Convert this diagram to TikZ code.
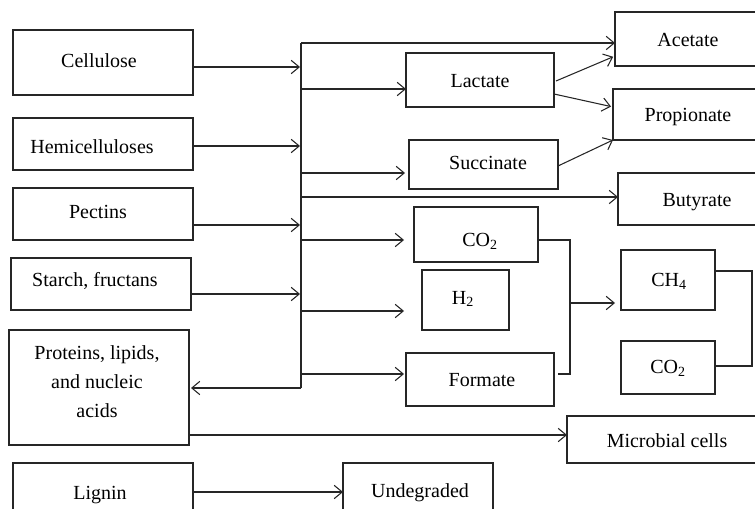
\documentclass[tikz,border=0pt]{standalone}
\usepackage{fontspec}
\setmainfont{Liberation Serif}
\usetikzlibrary{arrows.meta,fit}
\begin{document}
\begin{tikzpicture}[x=0.75pt,y=-0.75pt,
  line width=0.8pt, draw={black!85},
  box/.style={draw, rectangle, inner sep=0pt, outer sep=0pt},
  txt/.style={inner sep=0pt, font=\fontsize{15}{21.75}\selectfont, align=center},
  arr/.style={-{Straight Barb[length=6pt,width=10pt,line width=0.8pt]}},
  con/.style={}]
\useasboundingbox (0,0) rectangle (755,509);
\clip (0,0) rectangle (755,509);
% boxes
\node[box, fit={(13,30) (193,95)}] (cell) {};
\node[box, fit={(13,118) (193,170)}] (hemi) {};
\node[box, fit={(13,188) (193,240)}] (pect) {};
\node[box, fit={(11,258) (191,310)}] (starch) {};
\node[box, fit={(9,330) (189,445)}] (prot) {};
\node[box, fit={(13,463) (193,525)}] (lign) {};
\node[box, fit={(615,12) (775,66)}] (acet) {};
\node[box, fit={(406,53) (554,107)}] (lact) {};
\node[box, fit={(613,89) (775,140)}] (prop) {};
\node[box, fit={(409,140) (558,189)}] (succ) {};
\node[box, fit={(618,173) (775,225)}] (buty) {};
\node[box, fit={(414,207) (538,262)}] (co2a) {};
\node[box, fit={(422,270) (509,330)}] (htwo) {};
\node[box, fit={(406,353) (554,406)}] (form) {};
\node[box, fit={(621,250) (715,310)}] (chf) {};
\node[box, fit={(621,341) (715,394)}] (co2b) {};
\node[box, fit={(567,416) (775,463)}] (micro) {};
\node[box, fit={(343,463) (493,525)}] (undeg) {};
% texts
\node[txt] (tcell) at (99,61) {Cellulose};
\node[txt] (themi) at (92,147) {Hemicelluloses};
\node[txt] (tpect) at (98,212) {Pectins};
\node[txt] (tstarch) at (95,281) {Starch, fructans};
\node[txt] (tprot) at (97,382) {Proteins, lipids,\\and nucleic\\acids};
\node[txt] (tlign) at (100,495) {Lignin};
\node[txt] (tundeg) at (420,493) {Undegraded};
\node[txt] (tacet) at (688,40) {Acetate};
\node[txt] (tlact) at (480,81) {Lactate};
\node[txt] (tprop) at (688,117) {Propionate};
\node[txt] (tsucc) at (488,163) {Succinate};
\node[txt] (tbuty) at (697,202) {Butyrate};
\node[txt] (tco2a) at (480,241) {CO\textsubscript{2}};
\node[txt] (thtwo) at (463,299) {H\textsubscript{2}};
\node[txt] (tform) at (482,380) {Formate};
\node[txt] (tchf) at (669,281) {CH\textsubscript{4}};
\node[txt] (tco2b) at (668,368) {CO\textsubscript{2}};
\node[txt] (tmicro) at (667,441) {Microbial cells};
% bus
\coordinate (bus) at (301,0);
\coordinate (bt) at (301,43);
\coordinate (bb) at (301,388);
\draw (bt) -- (bb);
% inputs
\draw[arr] (cell.east |- 0,67) -- (300,67);
\draw[arr] (hemi.east |- 0,146) -- (300,146);
\draw[arr] (pect.east |- 0,225) -- (300,225);
\draw[arr] (starch.east |- 0,294) -- (300,294);
% outputs from bus
\draw[arr] (bt) -- (acet.west |- bt);
\draw[arr] (bus |- 0,89) -- (lact.west |- 0,89);
\draw[arr, shorten >=3pt] (bus |- 0,173) -- (succ.west |- 0,173);
\draw[arr] (bus |- 0,197) -- (buty.west |- 0,197);
\draw[arr, shorten >=7.5pt] (bus |- 0,240) -- (co2a.west |- 0,240);
\draw[arr, shorten >=13.5pt] (bus |- 0,311) -- (htwo.west |- 0,311);
\draw[arr, shorten >=1.5pt] (bus |- 0,374) -- (form.west |- 0,374);
\draw[arr, shorten >=1.5pt] (bb) -- (prot.east |- bb);
% other arrows
\draw[arr] (prot.east |- 0,435) -- (micro.west |- 0,435);
\draw[arr] (lign.east |- 0,492) -- (undeg.west |- 0,492);
\draw[arr, shorten >=1.5pt] (556,81) -- (acet.west |- 0,56);
\draw[arr, shorten >=1.5pt] (lact.east |- 0,94) -- (prop.west |- 0,107);
\draw[arr] (succ.east |- 0,166) -- (prop.west |- 0,140);
% gas collection
\coordinate (jx) at (570,303);
\draw (co2a.east |- 0,240) -- (jx |- 0,240) -- (jx |- 0,374) -- (558,374);
\draw[arr, shorten >=4.5pt] (jx) -- (chf.west |- jx);
\draw (chf.east |- 0,271) -- (752,271) -- (752,366) -- (co2b.east |- 0,366);
\end{tikzpicture}
\end{document}
